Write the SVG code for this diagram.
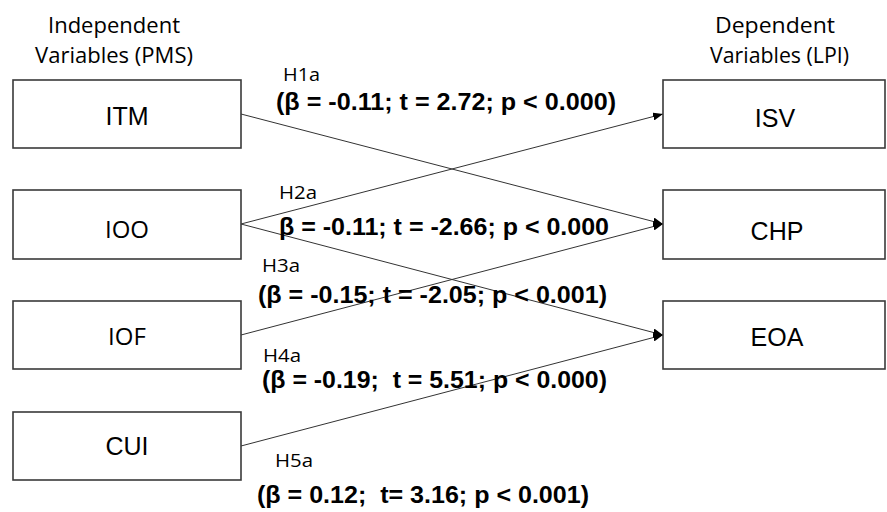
<svg xmlns="http://www.w3.org/2000/svg" width="887" height="512" viewBox="0 0 887 512">
<defs>
<style>
.box{fill:#fff;stroke:#3a3a3a;stroke-width:1.6}
.lbl{font-family:"Liberation Sans",Arial,sans-serif;font-size:25px;fill:#000;text-anchor:middle}
.lblc{font-family:"Open Sans","Noto Sans",sans-serif;font-size:24px;fill:#000;text-anchor:middle}
.hdr{font-family:"Open Sans","Noto Sans",sans-serif;font-size:21px;fill:#000}
.h{font-family:"Open Sans","Noto Sans",sans-serif;font-size:19px;fill:#000}
.st{font-family:"Liberation Sans",Arial,sans-serif;font-size:24px;font-weight:bold;fill:#000}
.edge{fill:none;stroke:#333;stroke-width:1;marker-end:url(#arr)}
</style>
<marker id="arr" viewBox="0 0 10 8" refX="10" refY="4" markerWidth="10" markerHeight="8" markerUnits="userSpaceOnUse" orient="auto">
<path d="M0,0 L10,4 L0,8 z" fill="#000"/>
</marker>
</defs>
<rect width="887" height="512" fill="#fff"/>
<g id="headers">
<text class="hdr" x="48" y="33" textLength="132" lengthAdjust="spacingAndGlyphs">Independent</text>
<text class="hdr" x="35" y="63" textLength="158" lengthAdjust="spacingAndGlyphs">Variables (PMS)</text>
<text class="hdr" x="715" y="33" textLength="120" lengthAdjust="spacingAndGlyphs">Dependent</text>
<text class="hdr" x="710" y="63" textLength="139" lengthAdjust="spacingAndGlyphs">Variables (LPI)</text>
</g>
<g id="connectors">
<line class="edge" x1="241" y1="114" x2="663" y2="224"/>
<line class="edge" x1="241" y1="224" x2="663" y2="114"/>
<line class="edge" x1="241" y1="224" x2="663" y2="335"/>
<line class="edge" x1="241" y1="335" x2="663" y2="224"/>
<line class="edge" x1="241" y1="446" x2="663" y2="335"/>
</g>
<g id="node-ITM"><rect class="box" x="13" y="80" width="228" height="68"/><text class="lbl" x="127" y="125">ITM</text></g>
<g id="node-IOO"><rect class="box" x="13" y="190" width="228" height="69"/><text class="lblc" x="127" y="238">IOO</text></g>
<g id="node-IOF"><rect class="box" x="13" y="301" width="228" height="68"/><text class="lblc" x="127" y="345">IOF</text></g>
<g id="node-CUI"><rect class="box" x="13" y="412" width="228" height="68"/><text class="lbl" x="127" y="455">CUI</text></g>
<g id="node-ISV"><rect class="box" x="663" y="80" width="222" height="68"/><text class="lbl" x="775" y="127">ISV</text></g>
<g id="node-CHP"><rect class="box" x="663" y="190" width="222" height="69"/><text class="lbl" x="777" y="240">CHP</text></g>
<g id="node-EOA"><rect class="box" x="663" y="301" width="222" height="68"/><text class="lbl" x="777" y="346">EOA</text></g>
<g id="labels">
<text class="h" x="283" y="81" textLength="37" lengthAdjust="spacingAndGlyphs">H1a</text>
<text class="st" x="276" y="110" textLength="340" lengthAdjust="spacingAndGlyphs">(β = -0.11; t = 2.72; p &lt; 0.000)</text>
<text class="h" x="279" y="199" textLength="38" lengthAdjust="spacingAndGlyphs">H2a</text>
<text class="st" x="279" y="235" textLength="330" lengthAdjust="spacingAndGlyphs">β = -0.11; t = -2.66; p &lt; 0.000</text>
<text class="h" x="262" y="272" textLength="38" lengthAdjust="spacingAndGlyphs">H3a</text>
<text class="st" x="258" y="303" textLength="349" lengthAdjust="spacingAndGlyphs">(β = -0.15; t = -2.05; p &lt; 0.001)</text>
<text class="h" x="263" y="362" textLength="38" lengthAdjust="spacingAndGlyphs">H4a</text>
<text class="st" x="262" y="388" textLength="345" lengthAdjust="spacingAndGlyphs" xml:space="preserve">(β = -0.19;  t = 5.51; p &lt; 0.000)</text>
<text class="h" x="275" y="467" textLength="38" lengthAdjust="spacingAndGlyphs">H5a</text>
<text class="st" x="257" y="503" textLength="332" lengthAdjust="spacingAndGlyphs" xml:space="preserve">(β = 0.12;  t= 3.16; p &lt; 0.001)</text>
</g>
</svg>
